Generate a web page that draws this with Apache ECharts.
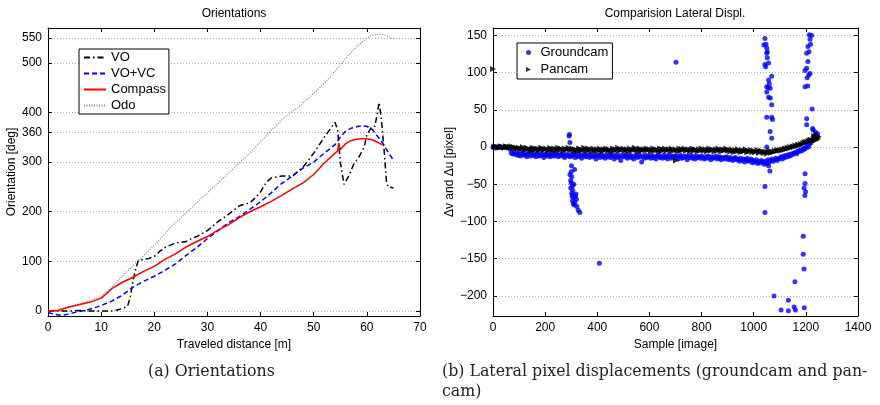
<!DOCTYPE html>
<html><head><meta charset="utf-8">
<script src="https://cdn.jsdelivr.net/npm/echarts@6/dist/echarts.min.js"></script>
<style>html,body{margin:0;padding:0;background:#fff}#c{width:880px;height:405px}</style>
</head><body><div id="c"></div>
<script>
// ---------- Left chart: Orientations ----------
const odoX = [0,2,4,6,8,10,12,14,17,20,23,26,29,32,35,38,41,44,47,50,53,56,58,60,61,62,63,64,65];
const odoY = [0,4,9,15,21,30,48,70,102,132,168,198,228,258,288,318,352,385,410,438,470,508,532,550,555,558,557,553,548];
const voX = [0,2,4,6,8,10,12,13,14,15,15.5,16,16.5,17,18,19,20,21,22,24,26,27,28,30,32,34,36,38,39,40,41,42,44,46,48,50,52,54,54.5,55,55.7,56.5,57.5,58.5,59.5,60,61,61.5,62,62.3,62.7,63.2,63.7,64,65];
const voY = [0,0,0,1,0,0,0,2,5,10,30,60,85,102,104,106,110,120,128,137,140,146,150,162,180,195,212,218,228,240,258,268,272,272,290,318,350,380,365,300,255,270,295,310,330,355,372,372,400,420,390,330,260,250,248];
const vcX = [0,1,2,3,4,5,6,8,10,12,14,16,18,20,22,24,26,28,30,32,34,36,38,40,42,44,46,48,50,52,54,55,56,57,58,59,60,61,62,63,64,65];
const vcY = [-3,-6,-8,-8,-6,-3,-1,4,11,20,32,48,60,70,82,95,112,128,146,162,178,190,205,220,238,257,272,288,300,318,335,350,362,368,371,373,372,366,352,338,320,304];
const compX = [0,1,2,3,4,6,8,10,11,12,14,16,18,20,22,24,26,28,30,32,34,36,38,40,42,44,46,48,50,52,54,54.5,54.7,55,56,57,58,59,60,61,62,63];
const compY = [0,0,1,5,8,13,18,26,35,45,58,68,80,90,104,115,129,140,150,163,174,188,200,210,221,233,246,258,275,298,318,322,338,325,337,343,346,347,347,345,340,334];
const leftYTicks = [0,100,200,300,360,400,500,550];

// ---------- Right chart: Lateral displacement ----------
const sampleStep = 5; // one stored value every 5 images
const panY = [105,0,1,0,-1,0,1,0,0,-1,1,0,-1,0,1,-1,0,-2,-1,-2,
 -1,-3,-2,0,-3,-4,-1,-2,-3,-5,-2,-1,-4,-3,-2,-5,-3,-1,-2,-4,
 -3,-2,-5,-4,-1,-3,-4,-2,-5,-3,-1,-4,-2,-3,-5,-2,-4,-3,-1,-3,
 -4,-2,-5,-3,-4,-6,-2,-3,-5,-4,-1,-3,-5,-2,-4,-3,-6,-2,-4,-5,
 -3,-5,-2,-4,-6,-3,-4,-2,-5,-3,-4,-6,-2,-5,-3,-4,-1,-5,-3,-4,
 -2,-5,-4,-3,-6,-2,-4,-5,-3,-1,-4,-6,-3,-2,-5,-4,-3,-5,-2,-4,
 -3,-6,-4,-2,-5,-3,-4,-5,-2,-6,-3,-4,-2,-5,-4,-3,-6,-2,-4,-5,
 -3,-4,-6,-2,-5,-3,-4,-2,-5,-4,-3,-6,-4,-2,-5,-3,-4,-6,-3,-5,
 -2,-4,-5,-3,-6,-4,-2,-5,-3,-4,-6,-3,-5,-2,-4,-6,-3,-5,-4,-2,
 -5,-4,-6,-3,-5,-7,-4,-6,-3,-5,-7,-4,-6,-5,-3,-7,-5,-6,-4,-7,
 -5,-7,-6,-4,-8,-6,-5,-7,-8,-6,-9,-7,-5,-8,-6,-7,-5,-6,-4,-5,
 -4,-5,-3,-4,-2,-3,-1,-2,0,-1,1,0,2,1,3,2,4,3,5,6,
 7,6,8,9,10,8,11,12,10,13];
const panOutX = [702,1232,1238,1242,1247,1250];
const panOutY = [-18,15,9,16,11,14];
const gcY = [0,0,0,-1,0,0,0,-1,0,0,0,0,-1,-3,-8,-9,-7,-10,-8,-11,
 -9,-12,-8,-10,-11,-9,-13,-10,-8,-12,-9,-11,-10,-13,-8,-11,-12,-9,-10,-14,
 -11,-9,-12,-10,-13,-8,-11,-12,-10,-9,-13,-11,-10,-12,-9,-14,-11,-10,-12,-13,
 -10,-12,-9,-14,-11,-13,-10,-12,-15,-11,-9,-13,-12,-10,-14,-11,-13,-12,-10,-16,
 -12,-11,-14,-10,-13,-12,-15,-11,-13,-10,-14,-12,-11,-16,-13,-10,-14,-12,-18,-11,
 -13,-12,-10,-15,-13,-11,-14,-12,-16,-13,-11,-14,-10,-13,-20,-12,-15,-11,-14,-13,
 -12,-15,-11,-14,-13,-16,-12,-10,-14,-13,-15,-11,-14,-12,-16,-13,-11,-15,-13,-12,
 -14,-12,-16,-13,-11,-15,-14,-12,-13,-17,-12,-14,-11,-15,-13,-16,-12,-14,-13,-15,
 -12,-14,-16,-13,-15,-12,-14,-17,-13,-15,-14,-12,-16,-14,-13,-17,-15,-14,-16,-13,
 -15,-17,-14,-16,-18,-15,-14,-17,-16,-19,-15,-18,-16,-20,-17,-15,-19,-18,-16,-21,
 -18,-20,-17,-22,-19,-21,-18,-20,-23,-19,-22,-17,-20,-18,-16,-19,-17,-15,-18,-16,
 -15,-13,-16,-12,-14,-11,-13,-10,-12,-9,-10,-8,-7,-9,-5,-6,-4,-5,-2,-3,
 -1,2,0,4,6,9,12,15,13,18];
const gcOutX = [292,293,295,295,298,300,298,302,300,301,302,304,307,305,310,308,312,314,316,318,320,322,327,333,305,310,313,306,
 408,702,
 1043,1047,1039,1050,1052,1050,1052,1057,1043,1046,1069,1057,1060,1050,1063,1055,1050,1057,1064,1069,1050,1069,1072,1063,1069,1050,1057,1062,1043,1043,
 1213,1222,1216,1218,1208,1212,1203,1208,1203,1197,1216,1205,1211,1197,1207,1224,1203,1203,1226,1197,1197,1193,1199,1196,1190,1190,1193,1158,1078,1133,1105,1133,1155,1160,1194,1228,1237];
const gcOutY = [15,17,6,-37,-45,-48,-55,-40,-33,-25,-62,-66,-64,-72,-68,-76,-78,-74,-66,-63,-70,-80,-85,-88,-52,-50,-30,-58,
 -156,114,
 146,138,137,133,128,126,120,113,111,108,95,90,85,81,79,80,74,67,66,57,40,40,37,21,12,0,-25,-32,-53,-88,
 151,150,145,138,135,128,126,115,106,103,99,93,97,81,82,51,38,30,25,-36,-49,-55,-60,-65,-120,-144,-164,-181,-200,-206,-219,-220,-215,-219,-216,23,20];
const rightYTicks = [-200,-150,-100,-50,0,50,100,150];

// ---------- build ----------
const zip = (xs, ys) => xs.map((x, i) => [x, ys[i]]);
const stepped = ys => ys.map((y, i) => [i * sampleStep, y]);
const FONT = "'Liberation Sans', Arial, Helvetica, sans-serif";
const SERIF = "'DejaVu Serif', 'Liberation Serif', serif";
const minus = v => String(v).replace('-', '\u2212');
const gridLine = {show: true, lineStyle: {color: '#aaaaaa', width: 1, type: [1, 2]}};
const lbl = {color: '#000', fontSize: 12, fontFamily: FONT};

function axisBase(extra) {
  return Object.assign({
    type: 'value',
    axisLine: {show: true, onZero: false, lineStyle: {color: '#000', width: 1}},
    axisTick: {show: true, inside: true, length: 4, lineStyle: {color: '#000'}},
    axisLabel: Object.assign({}, lbl, {margin: 6, formatter: minus}),
    splitLine: {show: false},
    nameTextStyle: {color: '#000', fontSize: 12, fontFamily: FONT}
  }, extra);
}

const chart = echarts.init(document.getElementById('c'), null, {renderer: 'canvas'});
chart.setOption({
  animation: false,
  backgroundColor: '#fff',
  textStyle: {fontFamily: FONT},
  grid: [
    {left: 48, top: 28, width: 372, height: 288, outerBoundsMode: 'none', containLabel: false},
    {left: 493, top: 28, width: 365, height: 288, outerBoundsMode: 'none', containLabel: false}
  ],
  xAxis: [
    axisBase({gridIndex: 0, min: 0, max: 70, interval: 10, position: 'bottom',
      name: 'Traveled distance [m]', nameLocation: 'middle', nameGap: 14}),
    axisBase({gridIndex: 0, min: 0, max: 70, interval: 10, position: 'top', axisLabel: {show: false}}),
    axisBase({gridIndex: 1, min: 0, max: 1400, interval: 200, position: 'bottom',
      name: 'Sample [image]', nameLocation: 'middle', nameGap: 14}),
    axisBase({gridIndex: 1, min: 0, max: 1400, interval: 200, position: 'top', axisLabel: {show: false}})
  ],
  yAxis: [
    axisBase({gridIndex: 0, min: -10, max: 570, position: 'left',
      axisTick: {show: true, inside: true, length: 4, lineStyle: {color: '#000'}, customValues: leftYTicks},
      axisLabel: Object.assign({}, lbl, {margin: 6, formatter: minus, customValues: leftYTicks}),
      splitLine: gridLine,
      name: 'Orientation [deg]', nameLocation: 'middle', nameGap: 30}),
    axisBase({gridIndex: 0, min: -10, max: 570, position: 'right',
      axisTick: {show: true, inside: true, length: 4, lineStyle: {color: '#000'}, customValues: leftYTicks},
      axisLabel: {show: false, customValues: leftYTicks}}),
    axisBase({gridIndex: 1, min: -227, max: 160, position: 'left',
      axisTick: {show: true, inside: true, length: 4, lineStyle: {color: '#000'}, customValues: rightYTicks},
      axisLabel: Object.assign({}, lbl, {margin: 6, formatter: minus, customValues: rightYTicks}),
      splitLine: gridLine,
      name: '\u0394v and \u0394u [pixel]', nameLocation: 'middle', nameGap: 25}),
    axisBase({gridIndex: 1, min: -227, max: 160, position: 'right',
      axisTick: {show: true, inside: true, length: 4, lineStyle: {color: '#000'}, customValues: rightYTicks},
      axisLabel: {show: false, customValues: rightYTicks}})
  ],
  legend: [
    {data: ['VO', 'VO+VC', 'Compass', 'Odo'], orient: 'vertical', left: 79, top: 49,
      backgroundColor: '#fff', borderColor: '#000', borderWidth: 1, borderRadius: 0,
      padding: [2, 3, 2, 4], itemWidth: 22, itemHeight: 10, itemGap: 3,
      itemStyle: {opacity: 0},
      textStyle: {fontSize: 13, color: '#000', fontFamily: FONT}},
    {data: ['Groundcam', {name: 'Pancam', icon: 'path://M0 0L10 5L0 10Z'}], orient: 'vertical', left: 517, top: 43,
      backgroundColor: '#fff', borderColor: '#000', borderWidth: 1, borderRadius: 0,
      padding: [3, 4, 3, 9], itemWidth: 14, itemHeight: 5, itemGap: 4,
      textStyle: {fontSize: 13, color: '#000', fontFamily: FONT}}
  ],
  series: [
    {name: 'Odo', type: 'line', xAxisIndex: 0, yAxisIndex: 0, symbol: 'none', z: 2,
      data: zip(odoX, odoY), lineStyle: {color: '#8a8a8a', width: 1.3, type: [1, 1.5]}, itemStyle: {color: '#8a8a8a'}},
    {name: 'VO', type: 'line', xAxisIndex: 0, yAxisIndex: 0, symbol: 'none', z: 3,
      data: zip(voX, voY), lineStyle: {color: '#000', width: 1.5, type: [6, 3, 1.5, 3]}, itemStyle: {color: '#000'}},
    {name: 'VO+VC', type: 'line', xAxisIndex: 0, yAxisIndex: 0, symbol: 'none', z: 3,
      data: zip(vcX, vcY), lineStyle: {color: '#0000ff', width: 1.5, type: [5, 3]}, itemStyle: {color: '#0000ff'}},
    {name: 'Compass', type: 'line', xAxisIndex: 0, yAxisIndex: 0, symbol: 'none', z: 3,
      data: zip(compX, compY), lineStyle: {color: '#ff0000', width: 1.5}, itemStyle: {color: '#ff0000'}},
    {name: 'Groundcam', type: 'scatter', xAxisIndex: 2, yAxisIndex: 2, symbol: 'circle', symbolSize: 5,
      itemStyle: {color: '#0000ff'}, data: stepped(gcY).concat(zip(gcOutX, gcOutY))},
    {name: 'Pancam', type: 'scatter', xAxisIndex: 2, yAxisIndex: 2, symbol: 'triangle', symbolRotate: -90, symbolSize: 6,
      itemStyle: {color: '#000'}, data: stepped(panY).concat(zip(panOutX, panOutY))}
  ],
  graphic: [
    {type: 'text', x: 234, y: 14, style: {text: 'Orientations', font: '12px ' + FONT, fill: '#000', align: 'center', verticalAlign: 'middle'}},
    {type: 'text', x: 675, y: 14, style: {text: 'Comparision Lateral Displ.', font: '12px ' + FONT, fill: '#000', align: 'center', verticalAlign: 'middle'}},
    {type: 'text', x: 148, y: 372, style: {text: '(a) Orientations', font: '15.8px ' + SERIF, fill: '#222', align: 'left', verticalAlign: 'middle'}},
    {type: 'text', x: 442, y: 372, style: {text: '(b) Lateral pixel displacements (groundcam and pan-', font: '15.8px ' + SERIF, fill: '#222', align: 'left', verticalAlign: 'middle'}},
    {type: 'text', x: 442, y: 392, style: {text: 'cam)', font: '15.8px ' + SERIF, fill: '#222', align: 'left', verticalAlign: 'middle'}}
  ]
});
</script></body></html>
